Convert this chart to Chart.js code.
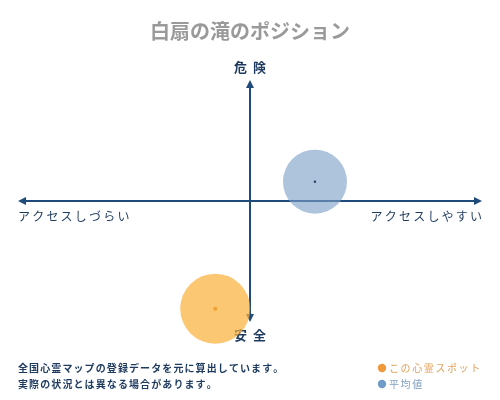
<!DOCTYPE html>
<html>
<head>
<meta charset="utf-8">
<script src="https://cdn.jsdelivr.net/npm/chart.js@4"></script>
<style>
  html, body { margin: 0; padding: 0; background: #fff; }
  #wrap { width: 500px; height: 400px; }
</style>
</head>
<body>
<div id="wrap"><canvas id="POSITION"></canvas></div>
<script>
// data
const seriesNames = ['この心霊スポット', '平均値'];
const spotPoint = [{ x: -0.15, y: -0.89 }];
const averagePoint = [{ x: 0.28, y: 0.16 }];
const axisLabels = { top: '危険', bottom: '安全', left: 'アクセスしづらい', right: 'アクセスしやすい' };
const notes = ['全国心霊マップの登録データを元に算出しています。', '実際の状況とは異なる場合があります。'];

const NAVY = '#1f4b7a';
const TEXT_NAVY = '#1e3a5f';
const FONT = '"Noto Sans CJK JP", "Noto Sans", sans-serif';

function spacedText(c, str, x, y, spacing, align) {
  c.letterSpacing = '0px';
  let w = 0;
  const widths = [...str].map(ch => c.measureText(ch).width);
  widths.forEach((cw, i) => { w += cw + (i < widths.length - 1 ? spacing : 0); });
  let start = x;
  if (align === 'center') start = x - w / 2;
  if (align === 'right') start = x - w;
  c.textAlign = 'left';
  [...str].forEach((ch, i) => {
    c.fillText(ch, start, y);
    start += widths[i] + spacing;
  });
}

const quadrantPlugin = {
  id: 'quadrant',
  beforeDatasetsDraw(chart) {
    const c = chart.ctx;
    const xs = chart.scales.x, ys = chart.scales.y;
    const area = chart.chartArea;
    const cx = xs.getPixelForValue(0), cy = ys.getPixelForValue(0);
    c.save();
    c.strokeStyle = NAVY;
    c.fillStyle = NAVY;
    c.lineWidth = 2;
    c.beginPath();
    c.moveTo(area.left + 4, cy); c.lineTo(area.right - 4, cy);
    c.moveTo(cx, area.top + 4); c.lineTo(cx, area.bottom - 4);
    c.stroke();
    const head = (x, y, dx, dy) => {
      c.beginPath();
      c.moveTo(x, y);
      c.lineTo(x - dx * 8 - dy * 4, y - dy * 8 - dx * 4);
      c.lineTo(x - dx * 8 + dy * 4, y - dy * 8 + dx * 4);
      c.closePath();
      c.fill();
    };
    head(area.left, cy, -1, 0);
    head(area.right, cy, 1, 0);
    head(cx, area.top, 0, -1);
    head(cx, area.bottom, 0, 1);

    c.fillStyle = TEXT_NAVY;
    c.textBaseline = 'middle';
    c.font = 'bold 13px ' + FONT;
    spacedText(c, axisLabels.top, cx, area.top - 13, 6, 'center');
    spacedText(c, axisLabels.bottom, cx, area.bottom + 13, 6, 'center');
    c.font = '12px ' + FONT;
    spacedText(c, axisLabels.left, area.left, cy + 15, 2.2, 'left');
    spacedText(c, axisLabels.right, area.right, cy + 15, 2.2, 'right');
    c.restore();
  },
  afterDatasetsDraw(chart) {
    const c = chart.ctx;
    c.save();
    const dotColors = ['#f0a030', '#1e3a5f'];
    chart.data.datasets.forEach((ds, i) => {
      chart.getDatasetMeta(i).data.forEach(el => {
        c.fillStyle = dotColors[i];
        c.beginPath();
        c.arc(el.x, el.y, i === 0 ? 2 : 1.2, 0, Math.PI * 2);
        c.fill();
      });
    });

    c.textBaseline = 'middle';
    c.fillStyle = TEXT_NAVY;
    c.font = 'bold 10px ' + FONT;
    spacedText(c, notes[0], 18, 368, 1.1, 'left');
    spacedText(c, notes[1], 18, 384, 1.1, 'left');

    const legendColors = ['#ee9a3c', '#6f9cc6'];
    const legendText = ['#e3a05a', '#7f9fc2'];
    seriesNames.forEach((name, i) => {
      const y = 368 + i * 16;
      c.fillStyle = legendColors[i];
      c.beginPath();
      c.arc(382, y, 4.2, 0, Math.PI * 2);
      c.fill();
      c.fillStyle = legendText[i];
      c.font = '10px ' + FONT;
      spacedText(c, name, 389, y, 1.6, 'left');
    });
    c.restore();
  }
};

new Chart(document.getElementById('POSITION'), {
  type: 'bubble',
  data: {
    datasets: [{
      label: seriesNames[0],
      data: spotPoint,
      radius: 35,
      backgroundColor: 'rgba(251, 178, 60, 0.72)',
      borderWidth: 0,
      hoverRadius: 0,
      clip: false
    }, {
      label: seriesNames[1],
      data: averagePoint,
      radius: 32,
      backgroundColor: 'rgba(125, 158, 198, 0.62)',
      borderWidth: 0,
      hoverRadius: 0,
      clip: false
    }]
  },
  options: {
    responsive: true,
    maintainAspectRatio: false,
    animation: false,
    events: [],
    layout: { autoPadding: false, padding: { left: 18, right: 18, top: 0, bottom: 78 } },
    scales: {
      x: { min: -1, max: 1, display: false },
      y: { min: -1, max: 1, display: false }
    },
    plugins: {
      legend: { display: false },
      tooltip: { enabled: false },
      title: {
        display: true,
        text: '白扇の滝のポジション',
        color: '#9a9a9a',
        font: { family: FONT, size: 20, weight: 'bold', lineHeight: 1.2 },
        padding: { top: 19, bottom: 37 }
      }
    }
  },
  plugins: [quadrantPlugin]
});
</script>
</body>
</html>
